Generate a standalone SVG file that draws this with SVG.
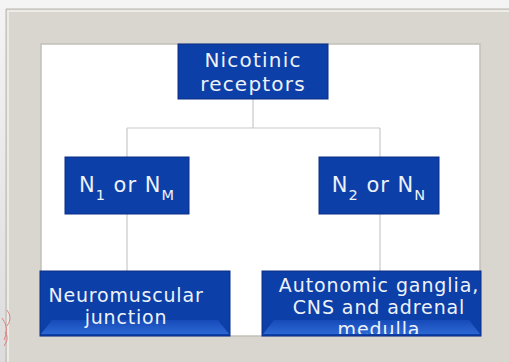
<svg xmlns="http://www.w3.org/2000/svg" width="509" height="362" viewBox="0 0 509 362">
<defs>
<style>
.box{fill:#0c3fa7;stroke:#0a2f86;stroke-width:1}
.t{font-family:"DejaVu Sans",Verdana,sans-serif;fill:#eef2fa;text-anchor:middle}
.c{stroke:#c9c9c9;stroke-width:1.2;fill:none}
</style>
<linearGradient id="sh" x1="0" y1="0" x2="0" y2="1">
<stop offset="0" stop-color="#f4f4f4"/><stop offset="1" stop-color="#dcdcdc"/>
</linearGradient>
<linearGradient id="bev" x1="0" y1="0" x2="0" y2="1">
<stop offset="0" stop-color="#1a50c0"/><stop offset="1" stop-color="#3a78e6"/>
</linearGradient>
<clipPath id="cr"><rect x="262" y="271" width="219" height="63"/></clipPath>
</defs>
<rect width="509" height="362" fill="url(#sh)"/>
<g id="frame">
<rect x="6" y="9" width="503" height="353" fill="#d8d6cf"/>
<path d="M6 362V9H509" fill="none" stroke="#b9b7b0" stroke-width="1"/>
<path d="M8 362V11H509" fill="none" stroke="#f3f2ee" stroke-width="1.5"/>
<rect x="41" y="44" width="439" height="292" fill="#ffffff" stroke="#c2c0b9" stroke-width="1.5"/>
<path d="M7 310q6 8 0 16M2 318q8 10 2 22M5 332q5 6 -1 14" fill="none" stroke="#e07070" stroke-width="0.8"/>
</g>
<g id="connectors">
<path class="c" d="M253 99V128M127 128H380M127 128V271M380 128V271"/>
</g>
<g id="n-root">
<rect class="box" x="178" y="44" width="150" height="55"/>
<text class="t" x="253" y="67" font-size="20" letter-spacing="1.2">Nicotinic</text>
<text class="t" x="253" y="91" font-size="20" letter-spacing="1.2">receptors</text>
</g>
<g id="n-n1">
<rect class="box" x="65" y="157" width="124" height="57"/>
<text class="t" x="127" y="192" font-size="21" letter-spacing="1">N<tspan font-size="14.5" dy="8">1</tspan><tspan dy="-8"> or N</tspan><tspan font-size="14.5" dy="8">M</tspan></text>
</g>
<g id="n-n2">
<rect class="box" x="319" y="157" width="120" height="57"/>
<text class="t" x="379" y="192" font-size="21" letter-spacing="1">N<tspan font-size="14.5" dy="8">2</tspan><tspan dy="-8"> or N</tspan><tspan font-size="14.5" dy="8">N</tspan></text>
</g>
<g id="n-nmj">
<rect class="box" x="40" y="271" width="190" height="65"/>
<path d="M52 320H218L229 334H41Z" fill="url(#bev)" opacity="0.7"/>
<text class="t" x="126" y="302" font-size="19" letter-spacing="0.8">Neuromuscular</text>
<text class="t" x="126" y="324" font-size="19" letter-spacing="0.8">junction</text>
</g>
<g id="n-ganglia">
<rect class="box" x="262" y="271" width="219" height="65"/>
<path d="M274 320H469L480 334H263Z" fill="url(#bev)" opacity="0.7"/>
<g clip-path="url(#cr)">
<text class="t" x="379" y="292" font-size="19" letter-spacing="0.9">Autonomic ganglia,</text>
<text class="t" x="379" y="314" font-size="19" letter-spacing="0.9">CNS and adrenal</text>
<text class="t" x="379" y="336" font-size="19" letter-spacing="0.9">medulla</text>
</g>
</g>
</svg>
